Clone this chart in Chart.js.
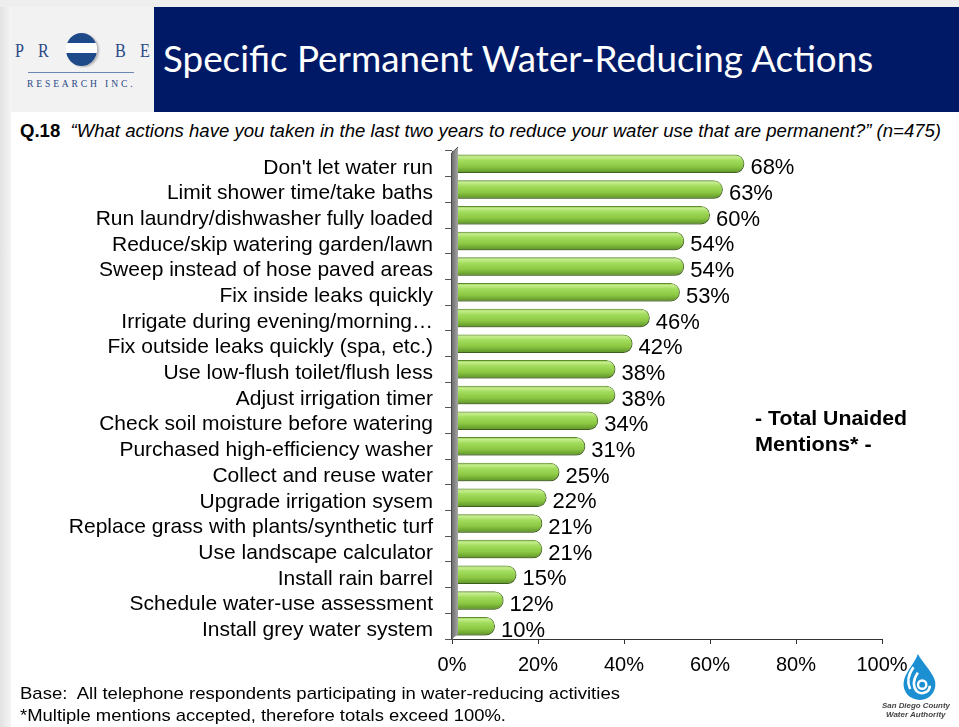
<!DOCTYPE html>
<html><head><meta charset="utf-8">
<script src="https://cdn.jsdelivr.net/npm/chart.js@4.4.1/dist/chart.umd.min.js"></script>
<style>
html,body{margin:0;padding:0;width:959px;height:727px;overflow:hidden;background:#fff;font-family:"Liberation Sans",Arial,sans-serif;}
#leftstrip{position:absolute;left:0;top:0;width:11px;height:727px;background:linear-gradient(to right,#e2e2e2,#f5f5f5);}
#topstrip{position:absolute;left:0;top:0;width:959px;height:7px;background:#eeeeee;}
#logoBox{position:absolute;left:11px;top:7px;width:143px;height:105px;background:#f2f2f2;}
#banner{position:absolute;left:154px;top:7px;width:805px;height:105px;background:#001966;}
.fit{position:absolute;white-space:nowrap;transform-origin:0 0;}
#title{left:163px;top:40px;font-family:Lato,"Open Sans",sans-serif;font-size:36px;line-height:36px;color:#fff;}
#question{left:20px;top:121px;font-size:18px;line-height:20px;color:#000;}
#question b{font-weight:bold;}
#question i{font-style:italic;}
.foot{left:20px;font-size:17px;line-height:22px;color:#000;}
#foot1{top:683px;}
#foot2{top:705px;}
.unaided{left:755px;font-size:20px;line-height:26px;font-weight:bold;color:#000;}
#un1{top:405px;}
#un2{top:431px;}
.pl{position:absolute;font-family:"Liberation Serif",serif;font-size:19px;line-height:19px;color:#2a4a86;top:41px;transform:scaleX(0.85);transform-origin:0 0;}
#ball{position:absolute;left:66px;top:33px;width:31px;height:33px;border-radius:50%;
 background:linear-gradient(to bottom,#1f4a8a 0,#1f4a8a 30%,#fff 31%,#fff 60%,#1f4a8a 61%,#1f4a8a 100%);
 box-shadow:2px 1px 2px rgba(0,0,0,0.25);}
#lline{position:absolute;left:28px;top:72px;width:106px;height:1px;background:#6a86b5;}
#research{left:27px;top:78px;font-family:"Liberation Serif",serif;font-size:10px;line-height:11px;letter-spacing:3px;color:#2a4a86;}
#chartWrap{position:absolute;left:0;top:139px;width:959px;height:560px;}
#sdLogo{position:absolute;left:896px;top:653px;}
.sdt{left:0;font-size:8px;line-height:9px;font-style:italic;font-weight:bold;color:#444;}
</style></head>
<body>
<div id="leftstrip"></div><div id="topstrip"></div>
<div id="logoBox"></div>
<div class="pl" style="left:15px">P</div>
<div class="pl" style="left:38px">R</div>
<div id="ball"></div>
<div class="pl" style="left:115px">B</div>
<div class="pl" style="left:140px">E</div>
<div id="lline"></div>
<div id="research" class="fit" data-w="108">RESEARCH INC.</div>
<div id="banner"></div>
<div id="title" class="fit" data-w="710">Specific Permanent Water-Reducing Actions</div>
<div id="question" class="fit" data-w="921"><b>Q.18</b>&nbsp; <i>“What actions have you taken in the last two years to reduce your water use that are permanent?” (n=475)</i></div>
<div id="chartWrap"><canvas id="c" width="959" height="560"></canvas></div>
<div id="un1" class="fit unaided" data-w="152">- Total Unaided</div>
<div id="un2" class="fit unaided" data-w="117">Mentions* -</div>
<div id="foot1" class="fit foot" data-w="600">Base:&nbsp; All telephone respondents participating in water-reducing activities</div>
<div id="foot2" class="fit foot" data-w="486">*Multiple mentions accepted, therefore totals exceed 100%.</div>
<svg id="sdLogo" width="48" height="48" viewBox="0 0 44 44">
 <path d="M20,1 C17,10 8,18 7,27 C6,36 13,43 22,43 C31,43 37,35 36,27 C35,19 25,10 20,1 Z" fill="#1b8fd2"/>
 <path d="M16,13 C11,20 10,27 13,33" stroke="#fff" stroke-width="2.4" fill="none"/>
 <path d="M20,18 C16,24 15,30 19,35 C23,39 31,36 31,30" stroke="#fff" stroke-width="2.4" fill="none"/>
 <circle cx="24" cy="29" r="3.8" fill="none" stroke="#fff" stroke-width="2.2"/>
</svg>
<div class="fit sdt" style="left:882px;top:701px" data-w="68">San Diego County</div>
<div class="fit sdt" style="left:886px;top:710px" data-w="60">Water Authority</div>
<script>
const categories = [
 "Don't let water run",
 "Limit shower time/take baths",
 "Run laundry/dishwasher fully loaded",
 "Reduce/skip watering garden/lawn",
 "Sweep instead of hose paved areas",
 "Fix inside leaks quickly",
 "Irrigate during evening/morning\u2026",
 "Fix outside leaks quickly (spa, etc.)",
 "Use low-flush toilet/flush less",
 "Adjust irrigation timer",
 "Check soil moisture before watering",
 "Purchased high-efficiency washer",
 "Collect and reuse water",
 "Upgrade irrigation sysem",
 "Replace grass with plants/synthetic turf",
 "Use landscape calculator",
 "Install rain barrel",
 "Schedule water-use assessment",
 "Install grey water system"
];
const values = [68,63,60,54,54,53,46,42,38,38,34,31,25,22,21,21,15,12,10];
const xTicks = [0,20,40,60,80,100];

document.querySelectorAll('.fit').forEach(el=>{
  const w = parseFloat(el.dataset.w);
  if(!w) return;
  const a = el.scrollWidth || el.getBoundingClientRect().width;
  if(a>0) el.style.transform = 'scaleX(' + (w/a) + ')';
});

const BAR_PCT = 0.72;
function barGradient(c){
  const chart = c.chart;
  const ys = chart.scales.y;
  if(!ys || !chart.chartArea || c.dataIndex === undefined) return '#8cc63f';
  const cy = ys.getPixelForValue(c.dataIndex);
  const h = (chart.chartArea.bottom - chart.chartArea.top) / categories.length * BAR_PCT;
  const top = cy - h/2, bot = cy + h/2;
  const g = chart.ctx.createLinearGradient(0, top, 0, bot);
  g.addColorStop(0, '#7cb83a');
  g.addColorStop(0.12, '#c6ee8e');
  g.addColorStop(0.32, '#a2dc5c');
  g.addColorStop(0.65, '#8cc843');
  g.addColorStop(1, '#5c9126');
  return g;
}

const shadowPlugin = {
  id:'shadow',
  beforeDatasetDraw(chart){
    const ctx = chart.ctx; ctx.save();
    ctx.shadowColor='rgba(0,0,0,0.4)'; ctx.shadowBlur=3; ctx.shadowOffsetX=1; ctx.shadowOffsetY=2;
  },
  afterDatasetDraw(chart){ chart.ctx.restore(); }
};
const wallPlugin = {
  id:'wall',
  afterDatasetsDraw(chart){
    const ctx = chart.ctx, a = chart.chartArea;
    const L = a.left, T = a.top, B = a.bottom, d = 6;
    ctx.save();
    const g = ctx.createLinearGradient(L,0,L+d,0);
    g.addColorStop(0,'#6e6e6e'); g.addColorStop(1,'#a6a6a6');
    ctx.beginPath();
    ctx.moveTo(L, T+2); ctx.lineTo(L+d, T-4); ctx.lineTo(L+d, B-5); ctx.lineTo(L, B); ctx.closePath();
    ctx.fillStyle = g; ctx.fill();
    ctx.strokeStyle = '#4a4a4a'; ctx.lineWidth = 1;
    ctx.beginPath(); ctx.moveTo(L-0.5, B); ctx.lineTo(L-0.5, T+2); ctx.lineTo(L+d, T-4); ctx.stroke();
    ctx.restore();
  }
};
const labelPlugin = {
  id:'vlabels',
  afterDatasetsDraw(chart){
    const ctx = chart.ctx, meta = chart.getDatasetMeta(0);
    ctx.save();
    ctx.font = '22px "Liberation Sans", Arial, sans-serif';
    ctx.fillStyle = '#000'; ctx.textAlign = 'left'; ctx.textBaseline = 'middle';
    meta.data.forEach((el,i)=>{ ctx.fillText(values[i] + '%', el.x + 6, el.y + 4.5); });
    ctx.restore();
  }
};

new Chart(document.getElementById('c'), {
  type:'bar',
  data:{ labels: categories, datasets:[{ data: values, backgroundColor: barGradient,
    borderColor:'#5f8f2c', borderWidth:1, borderSkipped:'start', borderRadius:9,
    barPercentage: BAR_PCT, categoryPercentage: 1 }] },
  options:{
    indexAxis:'y', responsive:false, animation:false, devicePixelRatio:1,
    layout:{ padding:{ left:0, right:77, top:12, bottom:0 } },
    plugins:{ legend:{display:false}, tooltip:{enabled:false} },
    scales:{
      x:{ min:0, max:100,
        afterFit(s){ s.height = 60; s.paddingLeft = 0; s.paddingRight = 0; },
        afterBuildTicks(s){ s.ticks = xTicks.map(v=>({value:v})); },
        ticks:{ callback:v=>v+'%', color:'#000', padding:9, maxRotation:0,
          font:{ family:'"Liberation Sans", Arial, sans-serif', size:20 } },
        grid:{ drawOnChartArea:false, drawTicks:true, tickLength:5, color:'#333' },
        border:{ display:true, color:'#333', width:1 } },
      y:{
        afterFit(s){ s.width = 452; s.paddingTop = 0; s.paddingBottom = 0; },
        ticks:{ color:'#000', padding:12, labelOffset:4, autoSkip:false,
          font:{ family:'"Liberation Sans", Arial, sans-serif', size:21 } },
        grid:{ drawOnChartArea:false, drawTicks:true, tickLength:7, color:'#555', offset:true },
        border:{ display:true, color:'#555' } }
    }
  },
  plugins:[shadowPlugin, wallPlugin, labelPlugin]
});
</script>
</body></html>
